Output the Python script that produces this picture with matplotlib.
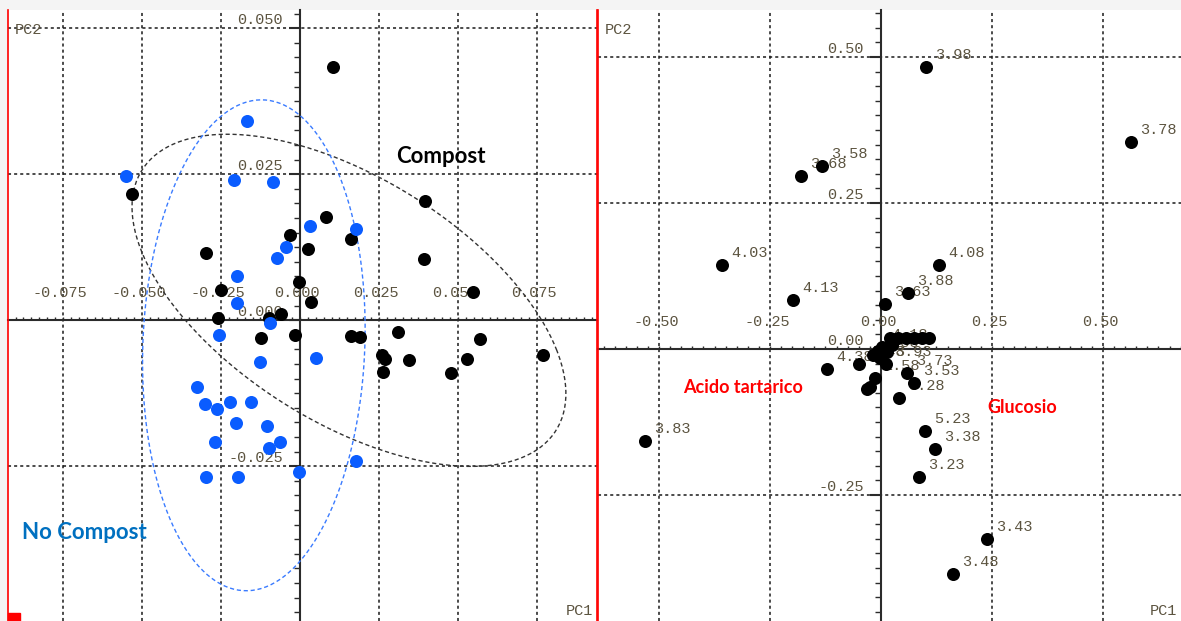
import numpy as np
import matplotlib
matplotlib.use("Agg")
import matplotlib.pyplot as plt
from matplotlib.ticker import MultipleLocator, FixedLocator
from matplotlib.patches import Rectangle

# score plot (left): samples with / without compost
compost_pc1 = [0.0104, -0.0532, 0.0396, 0.0082, -0.0032, 0.0161, -0.0297, 0.0025, 0.0392,
               -0.0003, -0.0250, 0.0547, 0.0035, -0.0259, -0.0060, -0.0098, -0.0123, -0.0016,
               0.0161, 0.0190, 0.0310, 0.0259, 0.0269, 0.0263, 0.0345, 0.0478, 0.0528, 0.0570, 0.0769]
compost_pc2 = [0.0433, 0.0216, 0.0204, 0.0176, 0.0146, 0.0139, 0.0115, 0.0122, 0.0104,
               0.0066, 0.0051, 0.0048, 0.0031, 0.0003, 0.0010, 0.0003, -0.0031, -0.0026,
               -0.0027, -0.0029, -0.0021, -0.0060, -0.0067, -0.0089, -0.0068, -0.0091, -0.0067, -0.0033, -0.0060]
nocomp_pc1 = [-0.0168, -0.0551, -0.0209, -0.0085, 0.0032, 0.0177, -0.0044, -0.0073, -0.0199, -0.0199,
              -0.0095, -0.0256, -0.0127, 0.0051, -0.0326, -0.0301, -0.0263, -0.0222, -0.0155, -0.0203,
              -0.0104, -0.0269, -0.0098, -0.0063, 0.0177, -0.0297, -0.0196, -0.0003]
nocomp_pc2 = [0.0341, 0.0247, 0.0240, 0.0236, 0.0161, 0.0156, 0.0125, 0.0106, 0.0075, 0.0029,
              -0.0005, -0.0026, -0.0072, -0.0065, -0.0115, -0.0144, -0.0152, -0.0140, -0.0140, -0.0176,
              -0.0182, -0.0209, -0.0219, -0.0209, -0.0241, -0.0269, -0.0269, -0.0260]

# group ellipses: centre, two conjugate half-axes
compost_ell = [(0.0155, 0.0034), (0.0658, -0.0086), (-0.0196, 0.0271)]
nocomp_ell = [(-0.0146, -0.0043), (0.0352, 0.0043), (-0.0012, 0.0418)]

# loading plot (right)
load_pc1 = [0.101, 0.563, -0.133, -0.180, -0.358, -0.198, 0.131, 0.061, 0.009, -0.532,
            0.099, 0.122, 0.086, 0.239, 0.162, 0.041, 0.074, 0.059, -0.014, -0.025,
            -0.032, -0.122, -0.050, -0.018, -0.007, 0.002, 0.014, 0.011, 0.020, 0.038,
            0.056, 0.074, 0.092, 0.108, -0.002, 0.025]
load_pc2 = [0.483, 0.354, 0.313, 0.296, 0.144, 0.084, 0.144, 0.096, 0.077, -0.158,
            -0.140, -0.171, -0.219, -0.325, -0.385, -0.084, -0.058, -0.041, -0.050, -0.065,
            -0.068, -0.034, -0.026, -0.010, -0.003, 0.003, -0.005, -0.026, 0.019, 0.019,
            0.019, 0.019, 0.019, 0.019, -0.015, 0.007]
load_labels = ["3.98", "3.78", "3.58", "3.68", "4.03", "4.13", "4.08", "3.88", "3.63", "3.83",
               "5.23", "3.38", "3.23", "3.43", "3.48", "3.28", "3.53", "3.73", "2.58", "",
               "", "4.38", "4.48", "4.33", "4.28", "4.18", "4.23", "3.93", "", "",
               "", "", "", "", "", ""]

left_ticks = [-0.075, -0.050, -0.025, 0.000, 0.025, 0.050, 0.075]
left_yticks = [0.050, 0.025, 0.000, -0.025]
right_ticks = [-0.50, -0.25, 0.00, 0.25, 0.50]
right_yticks = [0.50, 0.25, 0.00, -0.25]

AXIS_COL = "#2b2b2b"
LBL_COL = "#5c5440"
MONO = "Liberation Mono"


def style_axes(ax, xlim, ylim, xt, yt, minor):
    ax.set_xlim(xlim)
    ax.set_ylim(ylim)
    for s in ["top", "right"]:
        ax.spines[s].set_visible(False)
    for s in ["left", "bottom"]:
        ax.spines[s].set_position(("data", 0))
        ax.spines[s].set_color(AXIS_COL)
        ax.spines[s].set_linewidth(1.5)
    ax.xaxis.set_major_locator(FixedLocator(xt))
    ax.yaxis.set_major_locator(FixedLocator(yt))
    for a in [ax.xaxis, ax.yaxis]:
        a.set_minor_locator(MultipleLocator(minor))
    ax.tick_params(axis="x", which="both", direction="in", length=2.5, width=1,
                   color=AXIS_COL, labelbottom=False)
    ax.tick_params(axis="y", which="minor", direction="out", length=4, width=1,
                   color=AXIS_COL, labelleft=False)
    ax.tick_params(axis="y", which="major", direction="out", length=8, width=1.5,
                   color=AXIS_COL, labelleft=False)
    ax.grid(True, which="major", color="#1a1a1a", linestyle=(0, (2, 2)), linewidth=1.1)
    ax.set_axisbelow(True)
    ax.plot([0, 0], [0, 1], transform=ax.transAxes, color="#ff0000", lw=1.2, clip_on=False, zorder=6)
    ax.text(0.012, 0.967, "PC2", transform=ax.transAxes, fontsize=11, family=MONO,
            color=LBL_COL, ha="left", va="center")
    ax.text(0.993, 0.016, "PC1", transform=ax.transAxes, fontsize=11, family=MONO,
            color=LBL_COL, ha="right", va="center")


def tick_texts(ax, xt, yt, fmt):
    for v in xt:
        ax.annotate(fmt.format(v), (v, 0), xytext=(-3, 27), textcoords="offset pixels",
                    ha="center", va="center", fontsize=11, family=MONO, color=LBL_COL, zorder=2.6)
    for v in yt:
        ax.annotate(fmt.format(v), (0, v), xytext=(-17, 8), textcoords="offset pixels",
                    ha="right", va="center", fontsize=11, family=MONO, color=LBL_COL, zorder=2.6)


def ellipse(ax, par, color):
    t = np.linspace(0, 2 * np.pi, 300)
    (cx, cy), (ux, uy), (vx, vy) = par
    ax.plot(cx + ux * np.cos(t) + vx * np.sin(t), cy + uy * np.cos(t) + vy * np.sin(t),
            color=color, lw=1, linestyle=(0, (3, 2)), zorder=2.7)


fig = plt.figure(figsize=(11.81, 6.21), dpi=100, facecolor="#f4f4f4")
ax1 = fig.add_axes([8 / 1181, 0, 589 / 1181, 611 / 621])
ax2 = fig.add_axes([598 / 1181, 0, 583 / 1181, 611 / 621])

# left: scores
style_axes(ax1, (-0.0924, 0.0940), (-0.0515, 0.0531), left_ticks, left_yticks, 0.0025)
ax1.plot([1, 1], [0, 1], transform=ax1.transAxes, color="#ff0000", lw=1.2, clip_on=False, zorder=6)
tick_texts(ax1, left_ticks, left_yticks, "{:.3f}")
ellipse(ax1, compost_ell, "#333333")
ellipse(ax1, nocomp_ell, "#3a7bff")
ax1.scatter(compost_pc1, compost_pc2, s=88, color="black", zorder=3, linewidths=0)
ax1.scatter(nocomp_pc1, nocomp_pc2, s=88, color="#0a5cff", zorder=3, linewidths=0)
ax1.text(0.0304, 0.0281, "Compost", fontsize=16, fontweight="bold", family="Lato",
         color="black", ha="left", va="center", zorder=4)
ax1.text(-0.0880, -0.0363, "No Compost", fontsize=16, fontweight="bold", family="Lato",
         color="#0070c0", ha="left", va="center", zorder=4)

# right: loadings
style_axes(ax2, (-0.6374, 0.6757), (-0.4658, 0.5805), right_ticks, right_yticks, 0.025)
tick_texts(ax2, right_ticks, right_yticks, "{:.2f}")
ax2.scatter(load_pc1, load_pc2, s=88, color="black", zorder=3, linewidths=0)
for x, y, lab in zip(load_pc1, load_pc2, load_labels):
    if lab:
        ax2.annotate(lab, (x, y), xytext=(9, 12), textcoords="offset pixels", ha="left",
                     va="center", fontsize=11, family=MONO, color=LBL_COL, zorder=2.8)
ax2.text(-0.446, -0.0668, "Acido tartarico", fontsize=13, fontweight="bold", family="Lato",
         color="#ff0000", ha="left", va="center", zorder=4)
ax2.text(0.239, -0.101, "Glucosio", fontsize=13, fontweight="bold", family="Lato",
         color="#ff0000", ha="left", va="center", zorder=4)

fig.patches.append(Rectangle((8 / 1181, 0), 12 / 1181, 8 / 621, transform=fig.transFigure,
                             color="#ff0000", zorder=10))

fig.savefig("out.png", dpi=100, facecolor=fig.get_facecolor())
